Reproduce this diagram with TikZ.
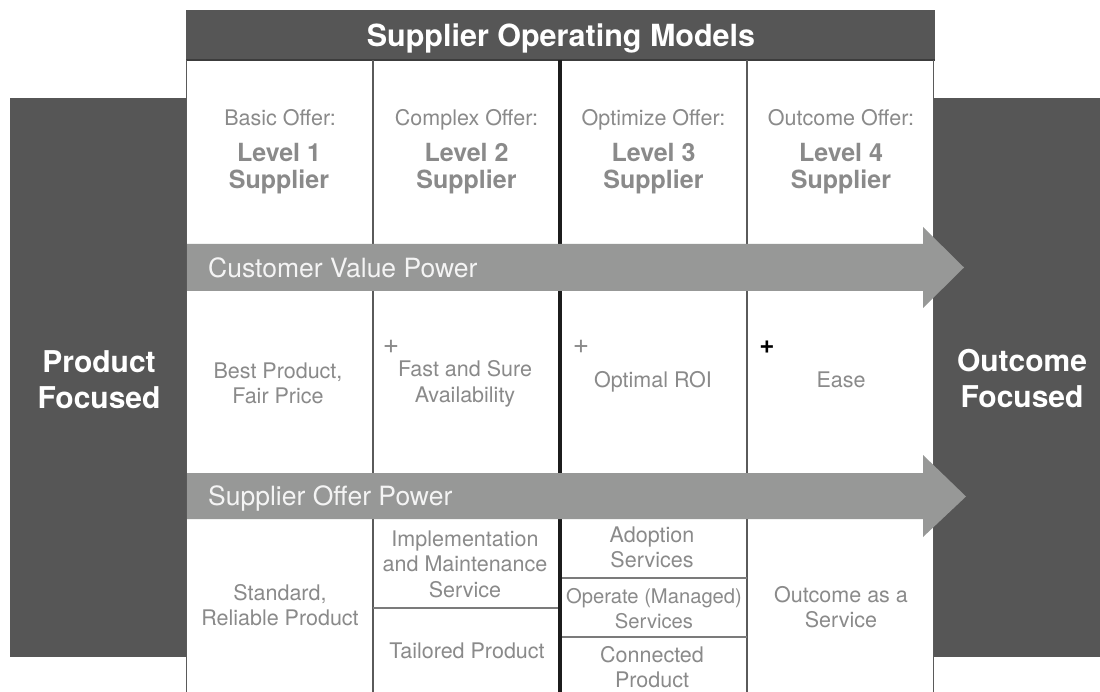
\documentclass[tikz,border=0pt]{standalone}
\usepackage{fontspec}
\setmainfont{TeX Gyre Heros}
\newcommand\mlines[1]{\begin{tabular}[t]{@{}c@{}}#1\end{tabular}}
\definecolor{paneldark}{HTML}{565656}
\definecolor{arrowgray}{HTML}{979897}
\definecolor{txtgray}{HTML}{8A8A8A}
\definecolor{bandtext}{HTML}{F4F4F4}
\definecolor{colline}{HTML}{5A5A5A}
\definecolor{thickline}{HTML}{1C1C1C}
\tikzset{
  lbl/.style={text=txtgray, inner sep=0pt, anchor=base, font=\fontsize{21.5}{25.5}\selectfont},
  lvl/.style={text=txtgray, inner sep=0pt, anchor=base, font=\bfseries\fontsize{25}{26}\selectfont},
  side/.style={text=white, inner sep=0pt, anchor=base, font=\bfseries\fontsize{30}{35.5}\selectfont},
  head/.style={text=white, inner sep=0pt, anchor=base, font=\bfseries\fontsize{30.5}{34}\selectfont},
  bandtxt/.style={text=bandtext, inner sep=0pt, anchor=base west, font=\fontsize{26.5}{30}\selectfont},
  plus/.style={inner sep=0pt, anchor=center, font=\fontsize{28}{30}\selectfont},
  panel/.style={fill=paneldark, draw=none},
  band/.style={fill=arrowgray, draw=none},
  colrule/.style={draw=colline, line width=1.8pt},
  rowrule/.style={draw=colline!80, line width=1.4pt},
}
\begin{document}
\begin{tikzpicture}[x=1pt,y=-1pt]
\useasboundingbox (0,0) rectangle (1100,692);
\fill[white] (0,0) rectangle (1100,692);
% side panels and header
\path[panel] (10,98) rectangle (186,657);
\path[panel] (933,98) rectangle (1100,657);
\path[panel] (186,10) rectangle (935,60);
\draw[draw=paneldark!70!black, line width=1.2pt] (186,60) -- (935,60);
% column rules
\draw[colrule, line width=1.4pt] (186.5,60) -- (186.5,692);
\draw[colrule] (373,60) -- (373,692);
\draw[draw=thickline, line width=4.2pt] (560,60) -- (560,692);
\draw[colrule] (747,60) -- (747,692);
\draw[colrule, line width=1.4pt] (933.5,60) -- (933.5,692);
% bottom-row dividers
\draw[rowrule] (373,608) -- (558,608);
\draw[rowrule] (562,578) -- (747,578);
\draw[rowrule] (562,637) -- (747,637);
% arrows
\path[band] (187,244) -- (923,244) -- (923,227) -- (964,267.5) -- (923,308) -- (923,291) -- (187,291) -- cycle;
\path[band] (187,473) -- (923,473) -- (923,455) -- (966,496.5) -- (923,537) -- (923,519) -- (187,519) -- cycle;
% header
\node[head] (title) at (561,47) {Supplier Operating Models};
% side labels
\node[side] (prodfoc) at (99,373) {\mlines{Product\\Focused}};
\node[side] (outfoc) at (1022,372) {\mlines{Outcome\\Focused}};
% top row
\node[lbl] (off1) at (280,126) {Basic Offer:};
\node[lbl] (off2) at (466.5,126) {Complex Offer:};
\node[lbl] (off3) at (653.5,126) {Optimize Offer:};
\node[lbl] (off4) at (841,126) {Outcome Offer:};
\node[lvl] (lvl1) at (279,162) {\mlines{Level 1\\Supplier}};
\node[lvl] (lvl2) at (466.5,162) {\mlines{Level 2\\Supplier}};
\node[lvl] (lvl3) at (653.5,162) {\mlines{Level 3\\Supplier}};
\node[lvl] (lvl4) at (841,162) {\mlines{Level 4\\Supplier}};
% band labels
\node[bandtxt] (cvp) at (208,278) {Customer Value Power};
\node[bandtxt] (sop) at (208,505) {Supplier Offer Power};
% middle row
\node[lbl] (val1) at (278,378) {\mlines{Best Product,\\Fair Price}};
\node[plus, text=txtgray] (plus2) at (391,347) {+};
\node[lbl] (val2) at (465,377) {\mlines{Fast and Sure\\Availability}};
\node[plus, text=txtgray] (plus3) at (581,347) {+};
\node[lbl] (val3) at (653,388) {Optimal ROI};
\node[plus, text=black, font=\bfseries\fontsize{26}{30}\selectfont] (plus4) at (767,347) {+};
\node[lbl] (val4) at (841,388) {Ease};
% bottom row
\node[lbl] (sup1) at (280,600) {\mlines{Standard,\\Reliable Product}};
\node[lbl] (sup2a) at (465,546) {\mlines{Implementation\\and Maintenance\\Service}};
\node[lbl] (sup2b) at (467,658) {Tailored Product};
\node[lbl] (sup3a) at (652,542) {\mlines{Adoption\\Services}};
\node[lbl, font=\fontsize{20.2}{25}\selectfont] (sup3b) at (654,603) {\mlines{Operate (Managed)\\Services}};
\node[lbl] (sup3c) at (652,662) {\mlines{Connected\\Product}};
\node[lbl] (sup4) at (841,602) {\mlines{Outcome as a\\Service}};
\end{tikzpicture}
\end{document}
